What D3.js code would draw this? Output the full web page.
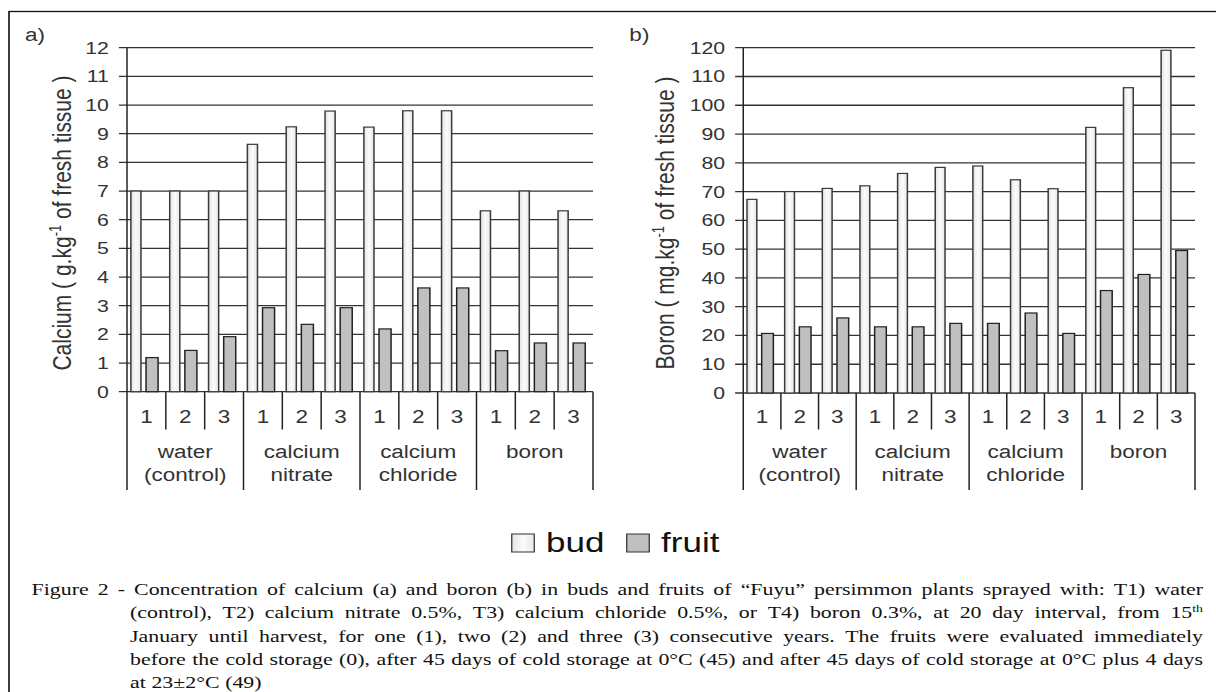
<!DOCTYPE html>
<html>
<head>
<meta charset="utf-8">
<script src="https://cdn.jsdelivr.net/npm/d3@7"></script>
<style>
	html, body { margin: 0; padding: 0; background: #fff; }
	svg { display: block; }
</style>
</head>
<body>
<div id="chart"></div>
<script>
// ---- data ----
var years = ["1", "2", "3"];
var treatments = [["water", "(control)"], ["calcium", "nitrate"], ["calcium", "chloride"], ["boron"]];

var calciumBud   = [7.0, 7.0, 7.0, 8.63, 9.24, 9.79, 9.23, 9.8, 9.8, 6.31, 7.0, 6.31];
var calciumFruit = [1.19, 1.44, 1.92, 2.93, 2.35, 2.93, 2.19, 3.62, 3.62, 1.43, 1.70, 1.70];
var boronBud     = [67.3, 70.0, 71.1, 72.0, 76.3, 78.4, 78.9, 74.1, 71.0, 92.3, 106.1, 119.1];
var boronFruit   = [20.7, 23.0, 26.1, 23.0, 23.0, 24.2, 24.2, 27.8, 20.7, 35.6, 41.2, 49.5];

var calciumTicks = d3.range(0, 13, 1);
var boronTicks = d3.range(0, 121, 10);

var seriesNames = ["bud", "fruit"];

var captionLines = [
	"Figure 2 - Concentration of calcium (a) and boron (b) in buds and fruits of \u201cFuyu\u201d persimmon plants sprayed with: T1) water",
	"(control), T2) calcium nitrate 0.5%, T3) calcium chloride 0.5%, or T4) boron 0.3%, at 20 day interval, from 15^th",
	"January until harvest, for one (1), two (2) and three (3) consecutive years. The fruits were evaluated immediately",
	"before the cold storage (0), after 45 days of cold storage at 0\u00b0C (45) and after 45 days of cold storage at 0\u00b0C plus 4 days",
	"at 23\u00b12\u00b0C (49)"
];

// ---- layout ----
var W = 1216, H = 692;
var stretch = 1.25; // the scanned figure is wider than tall, so draw narrow and stretch
var LW = W / stretch;

var svg = d3.select("#chart").append("svg")
	.attr("width", W)
	.attr("height", H)
	.attr("viewBox", "0 0 " + LW + " " + H)
	.attr("preserveAspectRatio", "none");

var defs = svg.append("defs");
var grad = defs.append("linearGradient")
	.attr("id", "budFill")
	.attr("x1", "0").attr("x2", "1").attr("y1", "0").attr("y2", "0");
grad.append("stop").attr("offset", "0%").attr("stop-color", "#e4e4e4");
grad.append("stop").attr("offset", "50%").attr("stop-color", "#fbfbfb");
grad.append("stop").attr("offset", "100%").attr("stop-color", "#e8e8e8");

var sans = "'Liberation Sans', Arial, sans-serif";
var serif = "'Liberation Serif', 'Times New Roman', serif";

// outer frame (runs off the right and bottom edges)
svg.append("rect")
	.attr("x", 7.2)
	.attr("y", 11.5)
	.attr("width", LW)
	.attr("height", H)
	.style("fill", "none")
	.style("stroke", "#111")
	.style("stroke-width", 1.3);

var slots = d3.range(12);

function drawPanel(p) {
	var g = svg.append("g");

	var x = d3.scaleBand()
		.domain(slots)
		.range([p.left, p.right])
		.padding(0);

	var y = d3.scaleLinear()
		.domain([0, p.max])
		.range([p.bottom, p.top]);

	var bw = x.bandwidth();
	var tableBottom = 490;
	var innerBottom = 429.5;

	// gridlines with short ticks left of the axis
	g.selectAll(".grid")
		.data(p.ticks)
	.enter().append("line")
		.attr("x1", p.left - 6.5)
		.attr("x2", p.right)
		.attr("y1", (d) => y(d))
		.attr("y2", (d) => y(d))
		.style("stroke", "#333")
		.style("stroke-width", 1.3);

	g.selectAll(".tickLabel")
		.data(p.ticks)
	.enter().append("text")
		.attr("x", p.left - 14.5)
		.attr("y", (d) => y(d) + 6)
		.attr("text-anchor", "end")
		.style("font-family", sans)
		.style("font-size", "17px")
		.style("fill", "#333")
		.text((d) => d);

	// bars
	g.selectAll(".bud")
		.data(p.bud)
	.enter().append("rect")
		.attr("x", (d, i) => x(i) + bw * 0.1)
		.attr("width", bw * 0.26)
		.attr("y", (d) => y(d))
		.attr("height", (d) => p.bottom - y(d))
		.style("fill", "url(#budFill)")
		.style("stroke", "#3a3a3a")
		.style("stroke-width", 1.2);

	g.selectAll(".fruit")
		.data(p.fruit)
	.enter().append("rect")
		.attr("x", (d, i) => x(i) + bw * 0.49)
		.attr("width", bw * 0.31)
		.attr("y", (d) => y(d))
		.attr("height", (d) => p.bottom - y(d))
		.style("fill", "#c0c0c0")
		.style("stroke", "#222")
		.style("stroke-width", 1.2);

	// y axis, running down through the category table
	g.append("line")
		.attr("x1", p.left).attr("x2", p.left)
		.attr("y1", p.top).attr("y2", tableBottom)
		.style("stroke", "#222")
		.style("stroke-width", 1.2);

	// category table below the axis
	g.selectAll(".divider")
		.data(d3.range(1, 13))
	.enter().append("line")
		.attr("x1", (d) => d < 12 ? x(d) : p.right)
		.attr("x2", (d) => d < 12 ? x(d) : p.right)
		.attr("y1", p.bottom)
		.attr("y2", (d) => d % 3 === 0 ? tableBottom : innerBottom)
		.style("stroke", "#222")
		.style("stroke-width", 1.2);

	g.selectAll(".year")
		.data(slots)
	.enter().append("text")
		.attr("x", (d) => x(d) + bw / 2)
		.attr("y", 423.5)
		.attr("text-anchor", "middle")
		.style("font-family", sans)
		.style("font-size", "18px")
		.style("fill", "#333")
		.text((d) => years[d % 3]);

	var groupText = g.selectAll(".group")
		.data(treatments)
	.enter().append("text")
		.attr("text-anchor", "middle")
		.style("font-family", sans)
		.style("font-size", "18px")
		.style("fill", "#333");

	groupText.selectAll("tspan")
		.data((d, i) => d.map((t) => ({ t: t, i: i })))
	.enter().append("tspan")
		.attr("x", (d) => x(d.i * 3) + bw * 1.5)
		.attr("y", (d, j) => 458 + j * 23)
		.text((d) => d.t);

	// rotated axis title with superscript -1
	var title = g.append("text")
		.attr("transform", "translate(" + p.titleX + "," + 223 + ") rotate(-90)")
		.attr("text-anchor", "middle")
		.style("font-family", sans)
		.style("font-size", "21px")
		.style("fill", "#333");
	title.append("tspan").text(p.title[0]);
	title.append("tspan").attr("dy", -8).style("font-size", "13px").text("-1");
	title.append("tspan").attr("dy", 8).text(p.title[1]);

	g.append("text")
		.attr("x", p.letterX)
		.attr("y", 41.5)
		.style("font-family", sans)
		.style("font-size", "18px")
		.style("fill", "#333")
		.text(p.letter);
}

drawPanel({
	left: 101.6, right: 474.4, top: 47.7, bottom: 391.7,
	max: 12, ticks: calciumTicks,
	bud: calciumBud, fruit: calciumFruit,
	title: ["Calcium ( g.kg", " of fresh tissue )"],
	titleX: 56.5, letter: "a)", letterX: 20
});

drawPanel({
	left: 594.6, right: 956, top: 47.7, bottom: 393,
	max: 120, ticks: boronTicks,
	bud: boronBud, fruit: boronFruit,
	title: ["Boron ( mg.kg", " of fresh tissue )"],
	titleX: 539, letter: "b)", letterX: 503.5
});

// legend
var legend = svg.append("g");
var legendX = [409.4, 501.4];
legend.selectAll("rect")
	.data(seriesNames)
.enter().append("rect")
	.attr("x", (d, i) => legendX[i])
	.attr("y", 534)
	.attr("width", 18)
	.attr("height", 18)
	.style("fill", (d, i) => i === 0 ? "url(#budFill)" : "#c0c0c0")
	.style("stroke", "#333")
	.style("stroke-width", 1);

legend.selectAll("text")
	.data(seriesNames)
.enter().append("text")
	.attr("x", (d, i) => legendX[i] + 27.5)
	.attr("y", 552.5)
	.style("font-family", sans)
	.style("font-size", "28px")
	.style("fill", "#111")
	.text((d) => d);

// caption, justified line by line
var capLeft = 25.3, capIndent = 104, capRight = 962.4;
var capY = [595, 618, 642, 665, 688];
var cap = svg.append("g")
	.style("font-family", serif)
	.style("font-size", "17.5px")
	.style("fill", "#111");

captionLines.forEach((line, li) => {
	var words = line.split(" ");
	var start = li === 0 ? capLeft : capIndent;
	var nodes = words.map((w) => {
		var t = cap.append("text").attr("y", capY[li]);
		if (w.indexOf("^") >= 0) {
			var parts = w.split("^");
			t.append("tspan").text(parts[0]);
			t.append("tspan").attr("dy", -6).style("font-size", "11px").text(parts[1]);
		} else {
			t.text(w);
		}
		return t;
	});
	var widths = nodes.map((t) => t.node().getComputedTextLength());
	var total = d3.sum(widths);
	var last = li === captionLines.length - 1;
	var gap = last ? 4.5 : (capRight - start - total) / (words.length - 1);
	var cx = start;
	nodes.forEach((t, i) => {
		t.attr("x", cx);
		cx += widths[i] + gap;
	});
});
</script>
</body>
</html>
